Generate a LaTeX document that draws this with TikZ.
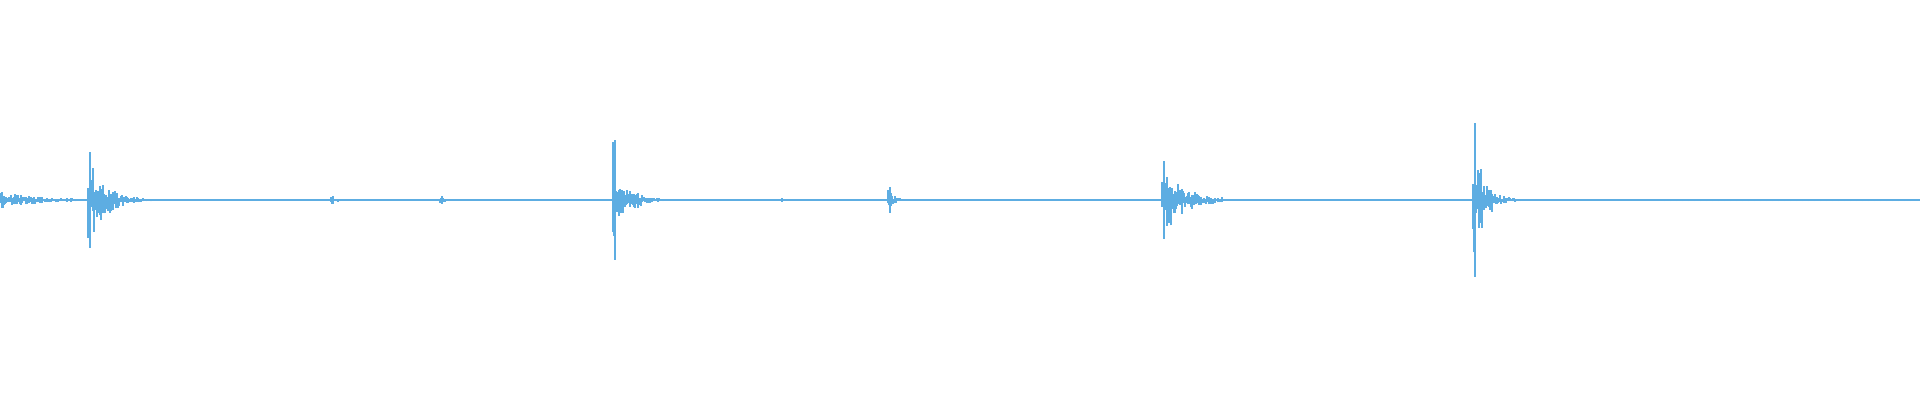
\documentclass[tikz,border=0pt]{standalone}
\usepackage{tikz}
\usepackage{xcolor}
\definecolor{wavecol}{RGB}{93,173,226}

\begin{document}
\begin{tikzpicture}[x=0.01cm,y=0.01cm,
wave/.style={draw=wavecol,line width=0.45pt}]
\pgfmathsetseed{7}
\useasboundingbox (0,-200) rectangle (1920,200);
% centre line
\draw[wave] (0,0) -- (1920,0);
% bursts: onset/peak/decay/length
\foreach \xo/\amp/\tau/\len in {0/8/40/80, 88/48/16/90, 331/4/5/12, 440/4/4/10,
  613/60/12/80, 780/2/4/8, 888/13/5/25, 1162/39/20/60, 1473/77/10/70} {
  \foreach \i in {0,...,\len} {
    \pgfmathsetmacro\hu{\amp*exp(-\i/\tau)*(0.15+0.85*rnd^2)+0.6}
    \pgfmathsetmacro\hd{\amp*exp(-\i/\tau)*(0.15+0.85*rnd^2)+0.6}
    \draw[wave] (\xo+\i,-\hd) -- (\xo+\i,\hu);
  }
  % main spike
  \draw[wave] (\xo+2,-\amp) -- (\xo+2,\amp);
}
% tiny tail flecks
\foreach \i in {1665,1671,...,1915} {
  \draw[wave] (\i,-1.2) -- (\i,1.2);
}
\end{tikzpicture}
\end{document}
